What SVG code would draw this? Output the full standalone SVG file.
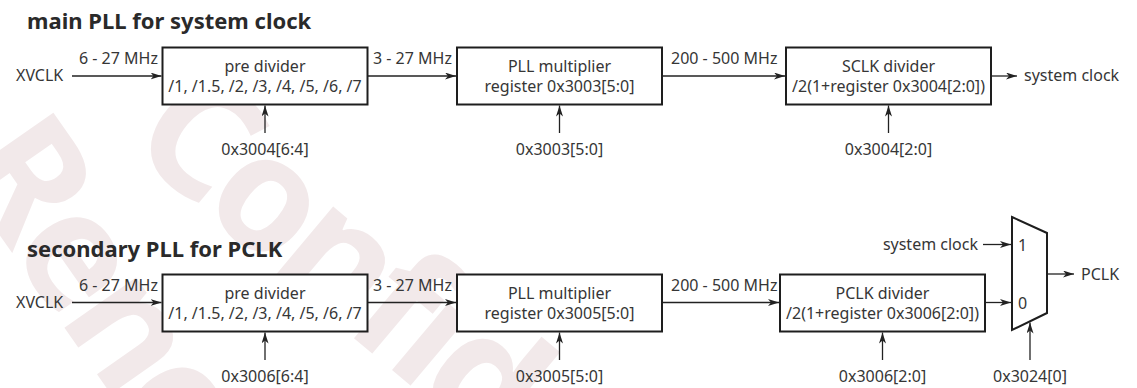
<svg xmlns="http://www.w3.org/2000/svg" width="1137" height="388" viewBox="0 0 1137 388">
<defs>
<marker id="ah" markerUnits="userSpaceOnUse" markerWidth="12" markerHeight="8" refX="11" refY="3.5" orient="auto">
<path d="M0,0 L11,3.5 L0,7 L3,3.5 Z" fill="#222"/>
</marker>
<style>
.t{font-family:"Noto Sans","Liberation Sans",sans-serif;font-size:16px;fill:#363636}
.m{text-anchor:middle}
.h{font-family:"Noto Sans","Liberation Sans",sans-serif;font-size:22px;font-weight:bold;fill:#2a2a2a}
.box{fill:#fff;stroke:#1e1e1e;stroke-width:2}
.c{fill:none;stroke:#222;stroke-width:1.3;marker-end:url(#ah)}
.wm{font-family:"Noto Sans","Liberation Sans",sans-serif;font-size:160px;font-weight:bold;fill:#f2e9ea}
</style>
</defs>
<rect width="1137" height="388" fill="#fff"/>
<g id="watermark">
<text class="wm" transform="translate(125,146) rotate(40)" letter-spacing="-8">Confid</text>
<text class="wm" transform="translate(-48,167) rotate(55)" letter-spacing="-8">Rene</text>
</g>
<text class="h" x="27" y="29">main PLL for system clock</text>
<text class="h" x="27" y="257">secondary PLL for PCLK</text>
<g id="connectors">
<line class="c" x1="72" y1="76" x2="161.5" y2="76"/>
<line class="c" x1="367.5" y1="76" x2="456" y2="76"/>
<line class="c" x1="662" y1="76" x2="785" y2="76"/>
<line class="c" x1="991" y1="76" x2="1017" y2="76"/>
<line class="c" x1="265" y1="133" x2="265" y2="105.5"/>
<line class="c" x1="559.5" y1="133" x2="559.5" y2="105.5"/>
<line class="c" x1="888.5" y1="133" x2="888.5" y2="105.5"/>
<line class="c" x1="72" y1="302.5" x2="161.5" y2="302.5"/>
<line class="c" x1="367.5" y1="302.5" x2="456" y2="302.5"/>
<line class="c" x1="662" y1="302.5" x2="779" y2="302.5"/>
<line class="c" x1="985" y1="302.5" x2="1011" y2="302.5"/>
<line class="c" x1="983" y1="244.5" x2="1011" y2="244.5"/>
<line class="c" x1="1047" y1="274" x2="1074" y2="274"/>
<line class="c" x1="265" y1="360" x2="265" y2="332.5"/>
<line class="c" x1="559.5" y1="360" x2="559.5" y2="332.5"/>
<line class="c" x1="882.5" y1="360" x2="882.5" y2="332.5"/>
<line class="c" x1="1030" y1="360" x2="1030" y2="322.5"/>
</g>
<g id="labels">
<text class="t" x="16" y="81">XVCLK</text>
<text class="t" x="79" y="64">6 - 27 MHz</text>
<text class="t" x="373" y="64">3 - 27 MHz</text>
<text class="t" x="671" y="64">200 - 500 MHz</text>
<text class="t" x="1024" y="81">system clock</text>
<text class="t m" x="265" y="155">0x3004[6:4]</text>
<text class="t m" x="559.5" y="155">0x3003[5:0]</text>
<text class="t m" x="888.5" y="155">0x3004[2:0]</text>
<text class="t" x="16" y="308">XVCLK</text>
<text class="t" x="79" y="291">6 - 27 MHz</text>
<text class="t" x="373" y="291">3 - 27 MHz</text>
<text class="t" x="671" y="291">200 - 500 MHz</text>
<text class="t" x="978" y="250" text-anchor="end">system clock</text>
<text class="t" x="1081" y="280">PCLK</text>
<text class="t m" x="265" y="382">0x3006[6:4]</text>
<text class="t m" x="559.5" y="382">0x3005[5:0]</text>
<text class="t m" x="882.5" y="382">0x3006[2:0]</text>
<text class="t m" x="1030" y="382">0x3024[0]</text>
</g>
<g id="pre-divider-1">
<rect class="box" x="162.5" y="47.5" width="205" height="57"/>
<text class="t m" x="265" y="72">pre divider</text>
<text class="t m" x="265" y="92">/1, /1.5, /2, /3, /4, /5, /6, /7</text>
</g>
<g id="pll-multiplier-1">
<rect class="box" x="457" y="47.5" width="205" height="57"/>
<text class="t m" x="559.5" y="72">PLL multiplier</text>
<text class="t m" x="559.5" y="92">register 0x3003[5:0]</text>
</g>
<g id="sclk-divider">
<rect class="box" x="786" y="47.5" width="205" height="57"/>
<text class="t m" x="888.5" y="72">SCLK divider</text>
<text class="t m" x="888.5" y="92">/2(1+register 0x3004[2:0])</text>
</g>
<g id="pre-divider-2">
<rect class="box" x="162.5" y="274.5" width="205" height="57"/>
<text class="t m" x="265" y="299">pre divider</text>
<text class="t m" x="265" y="319">/1, /1.5, /2, /3, /4, /5, /6, /7</text>
</g>
<g id="pll-multiplier-2">
<rect class="box" x="457" y="274.5" width="205" height="57"/>
<text class="t m" x="559.5" y="299">PLL multiplier</text>
<text class="t m" x="559.5" y="319">register 0x3005[5:0]</text>
</g>
<g id="pclk-divider">
<rect class="box" x="780" y="274.5" width="205" height="57"/>
<text class="t m" x="882.5" y="299">PCLK divider</text>
<text class="t m" x="882.5" y="319">/2(1+register 0x3006[2:0])</text>
</g>
<g id="mux">
<polygon class="box" points="1012,217 1047,233 1047,313 1012,330"/>
<text class="t" x="1018" y="251">1</text>
<text class="t" x="1018" y="309">0</text>
</g>
</svg>
